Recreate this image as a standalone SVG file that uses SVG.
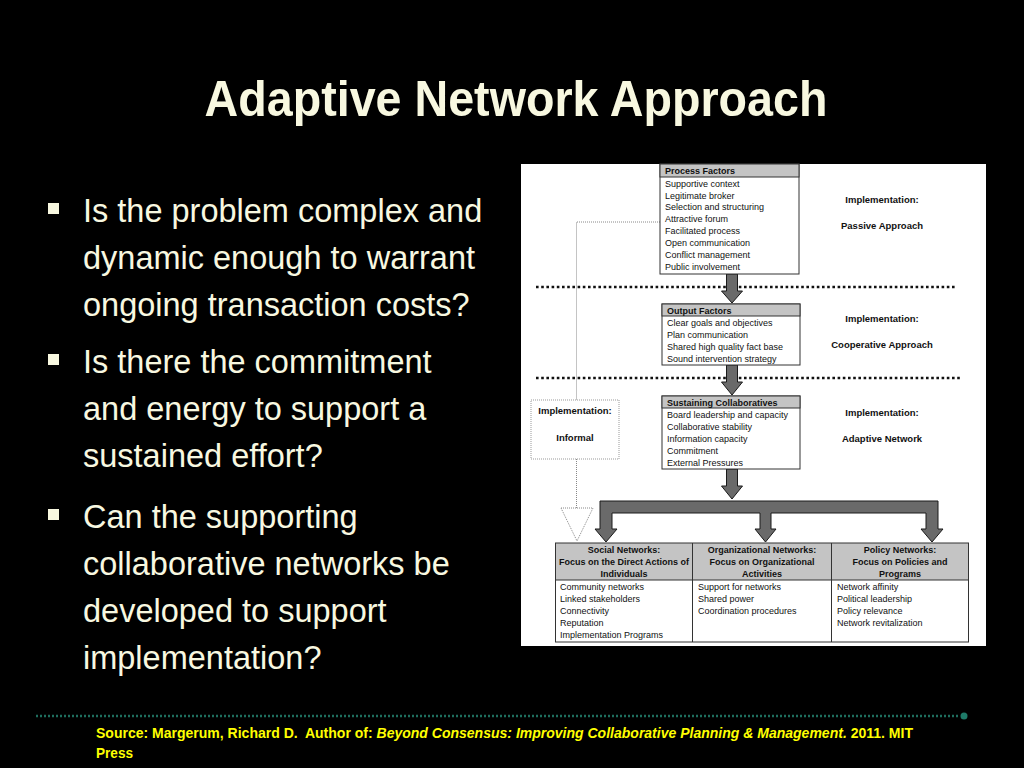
<svg xmlns="http://www.w3.org/2000/svg" width="1024" height="768" viewBox="0 0 1024 768">
<style>
.title{font-family:"Liberation Sans",Arial,sans-serif;font-weight:bold;font-size:50px;fill:#F8F8E0}
.bul{font-family:"Liberation Sans",Arial,sans-serif;font-size:32.5px;fill:#F8F8E0}
.d{font-family:"Liberation Sans",Arial,sans-serif;font-size:9px;fill:#111}
.db{font-family:"Liberation Sans",Arial,sans-serif;font-size:9px;font-weight:bold;fill:#111}
.lb{font-family:"Liberation Sans",Arial,sans-serif;font-size:9.5px;font-weight:bold;fill:#111;text-anchor:middle}
.th{font-family:"Liberation Sans",Arial,sans-serif;font-size:9px;font-weight:bold;fill:#111;text-anchor:middle}
.box{fill:#fff;stroke:#333;stroke-width:1}
.hdr{fill:#c4c4c4;stroke:#333;stroke-width:1}
.arr{fill:#6a6a6a;stroke:#1a1a1a;stroke-width:1;stroke-linejoin:miter}
.heavy{stroke:#111;stroke-width:2.6;stroke-dasharray:2.6 2.6;fill:none}
.thin{stroke:#888;stroke-width:1;stroke-dasharray:1 1;fill:none}
.foot{font-family:"Liberation Sans",Arial,sans-serif;font-size:14px;font-weight:bold;fill:#FFFF00}
</style>
<rect x="0" y="0" width="1024" height="768" fill="#000"/>
<text class="title" x="516" y="116" text-anchor="middle" textLength="623" lengthAdjust="spacingAndGlyphs">Adaptive Network Approach</text>
<g id="bullets">
<rect x="48" y="203" width="11" height="11" fill="#F8F8E0"/>
<rect x="48" y="354" width="11" height="11" fill="#F8F8E0"/>
<rect x="48" y="509" width="11" height="11" fill="#F8F8E0"/>
<text class="bul" x="83" y="222">Is the problem complex and</text>
<text class="bul" x="83" y="269">dynamic enough to warrant</text>
<text class="bul" x="83" y="316">ongoing transaction costs?</text>
<text class="bul" x="83" y="373">Is there the commitment</text>
<text class="bul" x="83" y="420">and energy to support a</text>
<text class="bul" x="83" y="467">sustained effort?</text>
<text class="bul" x="83" y="528">Can the supporting</text>
<text class="bul" x="83" y="575">collaborative networks be</text>
<text class="bul" x="83" y="622">developed to support</text>
<text class="bul" x="83" y="669">implementation?</text>
</g>
<rect id="panel" x="521" y="164" width="465" height="482" fill="#fff"/>
<g id="connectors">
<line class="heavy" x1="536" y1="287" x2="956" y2="287"/>
<line class="heavy" x1="536" y1="378" x2="962" y2="378"/>
<polyline class="thin" points="660,222 576.5,222 576.5,400"/>
<line class="thin" x1="576.5" y1="459" x2="576.5" y2="508"/>
<polygon points="561,508 593,508 577,541" fill="#fff" stroke="#888" stroke-width="1" stroke-dasharray="1 1"/>
<path class="arr" d="M726.5,274 H737.5 V291 H742.5 L732,303 L721.5,291 H726.5 Z"/>
<path class="arr" d="M726.5,365 H737.5 V382 H742.5 L732,395 L721.5,382 H726.5 Z"/>
<path class="arr" d="M726.5,469 H737.5 V486 H742.5 L732,499 L721.5,486 H726.5 Z"/>
<polygon class="arr" points="600,501 938,501 938,529 943,529 932,542 921,529 926,529 926,513 771,513 771,529 776,529 765.5,542 755,529 760,529 760,513 612,513 612,529 617,529 606,542 595,529 600,529"/>
</g>
<g id="process">
<rect class="box" x="660" y="164" width="139" height="110"/>
<rect class="hdr" x="660" y="164" width="139" height="13"/>
<text class="db" x="665" y="174">Process Factors</text>
<text class="d" x="665" y="187">Supportive context</text>
<text class="d" x="665" y="199">Legitimate broker</text>
<text class="d" x="665" y="210">Selection and structuring</text>
<text class="d" x="665" y="222">Attractive forum</text>
<text class="d" x="665" y="234">Facilitated process</text>
<text class="d" x="665" y="246">Open communication</text>
<text class="d" x="665" y="258">Conflict management</text>
<text class="d" x="665" y="270">Public involvement</text>
</g>
<g id="output">
<rect class="box" x="662" y="304" width="138" height="61"/>
<rect class="hdr" x="662" y="304" width="138" height="12"/>
<text class="db" x="667" y="314">Output Factors</text>
<text class="d" x="667" y="326">Clear goals and objectives</text>
<text class="d" x="667" y="338">Plan communication</text>
<text class="d" x="667" y="350">Shared high quality fact base</text>
<text class="d" x="667" y="362">Sound intervention strategy</text>
</g>
<g id="sustaining">
<rect class="box" x="662" y="396" width="138" height="73"/>
<rect class="hdr" x="662" y="396" width="138" height="12"/>
<text class="db" x="667" y="406">Sustaining Collaboratives</text>
<text class="d" x="667" y="418">Board leadership and capacity</text>
<text class="d" x="667" y="430">Collaborative stability</text>
<text class="d" x="667" y="442">Information capacity</text>
<text class="d" x="667" y="454">Commitment</text>
<text class="d" x="667" y="466">External Pressures</text>
</g>
<g id="passive">
<text class="lb" x="882" y="203">Implementation:</text>
<text class="lb" x="882" y="229">Passive Approach</text>
</g>
<g id="cooperative">
<text class="lb" x="882" y="322">Implementation:</text>
<text class="lb" x="882" y="348">Cooperative Approach</text>
</g>
<g id="adaptive">
<text class="lb" x="882" y="416">Implementation:</text>
<text class="lb" x="882" y="442">Adaptive Network</text>
</g>
<g id="informal">
<rect x="531" y="400" width="88" height="59" fill="#fff" stroke="#999" stroke-width="1" stroke-dasharray="1 1"/>
<text class="lb" x="575" y="414">Implementation:</text>
<text class="lb" x="575" y="441">Informal</text>
</g>
<g id="table">
<rect x="555" y="543" width="414" height="37" fill="#c4c4c4"/>
<line x1="555" y1="543" x2="969" y2="543" stroke="#333"/>
<line x1="555" y1="580" x2="969" y2="580" stroke="#333"/>
<line x1="555" y1="642" x2="969" y2="642" stroke="#333"/>
<line x1="555.5" y1="543" x2="555.5" y2="642" stroke="#333"/>
<line x1="692.5" y1="543" x2="692.5" y2="642" stroke="#333"/>
<line x1="831.5" y1="543" x2="831.5" y2="642" stroke="#333"/>
<line x1="968.5" y1="543" x2="968.5" y2="642" stroke="#333"/>
<text class="th" x="624" y="553">Social Networks:</text>
<text class="th" x="624" y="565">Focus on the Direct Actions of</text>
<text class="th" x="624" y="577">Individuals</text>
<text class="th" x="762" y="553">Organizational Networks:</text>
<text class="th" x="762" y="565">Focus on Organizational</text>
<text class="th" x="762" y="577">Activities</text>
<text class="th" x="900" y="553">Policy Networks:</text>
<text class="th" x="900" y="565">Focus on Policies and</text>
<text class="th" x="900" y="577">Programs</text>
<text class="d" x="560" y="590">Community networks</text>
<text class="d" x="560" y="602">Linked stakeholders</text>
<text class="d" x="560" y="614">Connectivity</text>
<text class="d" x="560" y="626">Reputation</text>
<text class="d" x="560" y="638">Implementation Programs</text>
<text class="d" x="698" y="590">Support for networks</text>
<text class="d" x="698" y="602">Shared power</text>
<text class="d" x="698" y="614">Coordination procedures</text>
<text class="d" x="837" y="590">Network affinity</text>
<text class="d" x="837" y="602">Political leadership</text>
<text class="d" x="837" y="614">Policy relevance</text>
<text class="d" x="837" y="626">Network revitalization</text>
</g>
<g id="footer">
<line x1="36" y1="716" x2="960" y2="716" stroke="#1e6e5e" stroke-width="2.5" stroke-dasharray="2 2"/>
<circle cx="964" cy="716" r="3.5" fill="#1e7a68"/>
<text class="foot" x="96" y="738" textLength="817" lengthAdjust="spacingAndGlyphs">Source: Margerum, Richard D.&#160; Author of: <tspan font-style="italic">Beyond Consensus: Improving Collaborative Planning &amp; Management.</tspan> 2011. MIT</text>
<text class="foot" x="96" y="758" textLength="37" lengthAdjust="spacingAndGlyphs">Press</text>
</g>
</svg>
